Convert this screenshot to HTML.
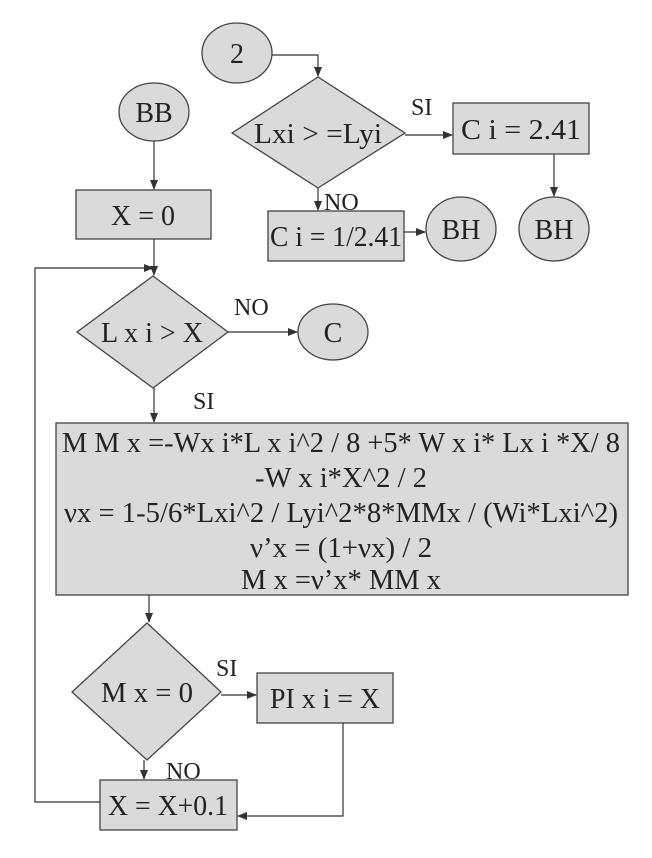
<!DOCTYPE html>
<html><head><meta charset="utf-8"><style>
html,body{margin:0;padding:0;background:#fff;}
svg{display:block;}
text{font-family:"Liberation Serif",serif;fill:#222;}
</style></head><body>
<svg width="652" height="858" viewBox="0 0 652 858" xmlns="http://www.w3.org/2000/svg">
<defs><marker id="a" markerWidth="10" markerHeight="10" refX="9" refY="5" orient="auto" markerUnits="userSpaceOnUse"><path d="M0,1 L10,5 L0,9 z" fill="#333"/></marker></defs>
<g stroke="#444" stroke-width="1.3" fill="#dadada">
<ellipse cx="237" cy="53" rx="35" ry="30"/>
<polygon points="232,133 318,77 405,133 318,188"/>
<rect x="453" y="103" width="136" height="51"/>
<ellipse cx="554" cy="229" rx="35" ry="32"/>
<rect x="268" y="211" width="136" height="50"/>
<ellipse cx="461" cy="229" rx="35" ry="32"/>
<ellipse cx="154" cy="112" rx="35" ry="29"/>
<rect x="76" y="190" width="135" height="49"/>
<polygon points="77,332 153,276 228,332 153,388"/>
<ellipse cx="333" cy="332" rx="35" ry="28"/>
<rect x="56" y="423" width="572" height="172"/>
<polygon points="72,692 147,623 221,692 147,760"/>
<rect x="257" y="673" width="136" height="50"/>
<rect x="100" y="780" width="137" height="50"/>
</g>
<g stroke="#333" stroke-width="1.2" fill="none">
<polyline points="272,55 318,55 318,76" marker-end="url(#a)"/>
<line x1="405" y1="135" x2="452" y2="135" marker-end="url(#a)"/>
<line x1="554" y1="154" x2="554" y2="196" marker-end="url(#a)"/>
<line x1="318" y1="188" x2="318" y2="210" marker-end="url(#a)"/>
<line x1="404" y1="232" x2="425" y2="232" marker-end="url(#a)"/>
<line x1="154" y1="141" x2="154" y2="189" marker-end="url(#a)"/>
<line x1="154" y1="239" x2="154" y2="275" marker-end="url(#a)"/>
<polyline points="100,802 35,802 35,268 153,268" marker-end="url(#a)"/>
<line x1="228" y1="332" x2="297" y2="332" marker-end="url(#a)"/>
<line x1="154" y1="388" x2="154" y2="422" marker-end="url(#a)"/>
<line x1="149" y1="595" x2="149" y2="622" marker-end="url(#a)"/>
<line x1="221" y1="695" x2="256" y2="695" marker-end="url(#a)"/>
<line x1="144" y1="760" x2="144" y2="779" marker-end="url(#a)"/>
<polyline points="343,723 343,816 238,816" marker-end="url(#a)"/>
</g>
<g font-size="28" text-anchor="middle">
<text x="237" y="63">2</text>
<text x="318" y="143" textLength="128" lengthAdjust="spacingAndGlyphs">Lxi &gt; =Lyi</text>
<text x="521" y="139" textLength="120" lengthAdjust="spacingAndGlyphs">C i = 2.41</text>
<text x="554" y="239">BH</text>
<text x="336" y="246" textLength="132" lengthAdjust="spacingAndGlyphs">C i = 1/2.41</text>
<text x="461" y="239">BH</text>
<text x="154" y="122">BB</text>
<text x="143" y="225">X = 0</text>
<text x="152" y="342" textLength="102" lengthAdjust="spacingAndGlyphs">L x i &gt; X</text>
<text x="333" y="342">C</text>
<g font-size="29">
<text x="341" y="452" textLength="558" lengthAdjust="spacingAndGlyphs">M M x =-Wx i*L x i^2 / 8 +5* W x i* Lx i *X/ 8</text>
<text x="341" y="487" textLength="172" lengthAdjust="spacingAndGlyphs">-W x i*X^2 / 2</text>
<text x="341" y="522" textLength="554" lengthAdjust="spacingAndGlyphs">νx = 1-5/6*Lxi^2 / Lyi^2*8*MMx / (Wi*Lxi^2)</text>
<text x="341" y="557" textLength="182" lengthAdjust="spacingAndGlyphs">ν’x = (1+νx) / 2</text>
<text x="341" y="589" textLength="200" lengthAdjust="spacingAndGlyphs">M x =ν’x* MM x</text>
</g>
<text x="147" y="702" textLength="92" lengthAdjust="spacingAndGlyphs">M x = 0</text>
<text x="325" y="708" textLength="110" lengthAdjust="spacingAndGlyphs">PI x i = X</text>
<text x="168" y="815" textLength="120" lengthAdjust="spacingAndGlyphs">X = X+0.1</text>
</g>
<g font-size="24">
<text x="411" y="115">SI</text>
<text x="324" y="210">NO</text>
<text x="234" y="315">NO</text>
<text x="193" y="409">SI</text>
<text x="216" y="676">SI</text>
<text x="166" y="779">NO</text>
</g>
</svg>
</body></html>
